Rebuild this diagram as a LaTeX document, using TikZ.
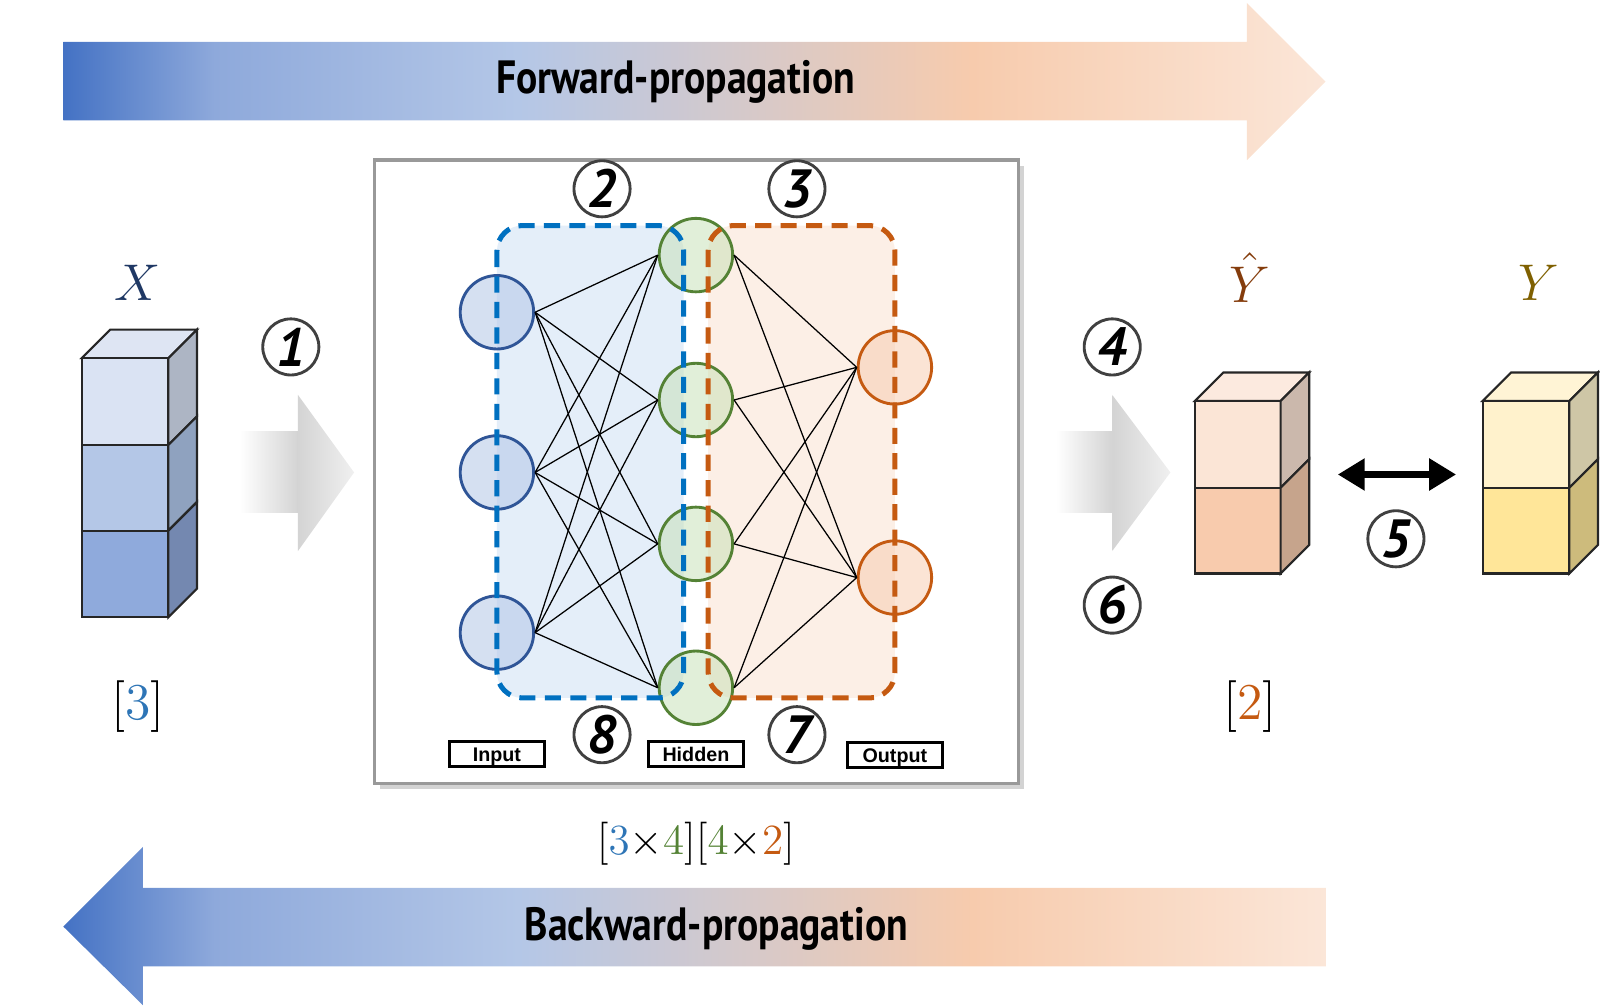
\documentclass[tikz,border=0pt]{standalone}
\usepackage{fontspec}
\setmainfont{PT Sans}
\newfontfamily\condfont[FakeStretch=0.85]{PT Sans}
\newfontfamily\labelfont{Liberation Sans}
\usetikzlibrary{arrows.meta,shadows}

% colours
\definecolor{pdeep}{HTML}{4472C4}
\definecolor{pmid}{HTML}{8EA9DB}
\definecolor{plight}{HTML}{B4C7E7}
\definecolor{ppeach}{HTML}{F7CBAD}
\definecolor{pend}{HTML}{FBE6D8}
\definecolor{inblue}{HTML}{2F5597}
\definecolor{infill}{HTML}{B4C7E7}
\definecolor{hidgreen}{HTML}{548235}
\definecolor{hidfill}{HTML}{C5E0B4}
\definecolor{outorange}{HTML}{C55A11}
\definecolor{outfill}{HTML}{F8CBAD}
\definecolor{zoneblue}{HTML}{0070C0}
\definecolor{zonebluefill}{HTML}{D6E6F6}
\definecolor{zoneorfill}{HTML}{FBE5D6}
\definecolor{numblue}{HTML}{2E75B6}
\definecolor{xnavy}{HTML}{1F3864}
\definecolor{yhatbrown}{HTML}{843C0C}
\definecolor{yolive}{HTML}{7F6000}

\pgfdeclarehorizontalshading{propshade}{100bp}{color(0bp)=(pdeep); color(25bp)=(pdeep); color(31bp)=(pmid); color(43bp)=(plight); color(61bp)=(ppeach); color(75bp)=(pend); color(100bp)=(pend)}

\tikzset{
  innode/.style={circle, draw=inblue, fill=infill, fill opacity=0.55, line width=0.8pt, minimum size=0.72cm, inner sep=0pt},
  hidnode/.style={circle, draw=hidgreen, fill=hidfill, fill opacity=0.5, line width=0.8pt, minimum size=0.72cm, inner sep=0pt},
  outnode/.style={circle, draw=outorange, fill=outfill, fill opacity=0.5, line width=0.8pt, minimum size=0.72cm, inner sep=0pt},
  wire/.style={black, line width=0.35pt},
  stepnum/.style={circle, draw=black!75, fill=white, line width=0.8pt, minimum size=0.55cm, inner sep=0pt, font=\fontsize{15}{17}\selectfont\bfseries\itshape},
  layerbox/.style={draw, line width=0.9pt, minimum width=0.93cm, minimum height=0.25cm, inner sep=0pt, text height=4pt, text depth=0pt, font=\labelfont\fontsize{5.5}{6}\selectfont\bfseries},
  zone/.style={line width=1.4pt, dash pattern=on 4.5pt off 2.6pt, rounded corners=0.25cm},
  cubeline/.style={draw=black!85, line width=0.6pt},
  bigtext/.style={font=\condfont\fontsize{13}{15}\selectfont\bfseries},
  mathlab/.style={font=\fontsize{14}{16}\selectfont}
}

\begin{document}
\begin{tikzpicture}[x=0.1mm, y=-0.1mm]
    \useasboundingbox (0,0) rectangle (1568,986);

    % Forward arrow
    \shade[shading=propshade] (62,41) -- (1222,41) -- (1222,3) -- (1299,80) -- (1222,157) -- (1222,118) -- (62,118) -- cycle;
    \node[bigtext] (fwd) at (662,80) {Forward-propagation};

    % Backward arrow
    \shade[shading=propshade] (1300,870) -- (140,870) -- (140,830) -- (62,908) -- (140,985) -- (140,947) -- (1300,947) -- cycle;
    \node[bigtext] (bwd) at (702,910) {Backward-propagation};

    % Network frame
    \draw[draw=black!40, line width=1pt, fill=white, drop shadow={shadow xshift=1.5pt, shadow yshift=-1.5pt, opacity=0.35}] (367,157) rectangle (998,768);

    % Zone fills
    \fill[zonebluefill, rounded corners=0.25cm, opacity=0.65] (487,221) rectangle (670,684);
    \fill[zoneorfill, rounded corners=0.25cm, opacity=0.6] (694,221) rectangle (877,684);

    % Neurons
    \node[innode] (i1) at (487,306) {};
    \node[innode] (i2) at (487,463) {};
    \node[innode] (i3) at (487,620) {};
    \node[hidnode] (h1) at (682,250) {};
    \node[hidnode] (h2) at (682,392) {};
    \node[hidnode] (h3) at (682,533) {};
    \node[hidnode] (h4) at (682,674) {};
    \node[outnode] (o1) at (877,360) {};
    \node[outnode] (o2) at (877,566) {};

    % Weights
    \foreach \i in {1,2,3}
        \foreach \h in {1,...,4}
            \draw[wire] (i\i.east) -- (h\h.west);
    \foreach \h in {1,...,4}
        \foreach \o in {1,2}
            \draw[wire] (h\h.east) -- (o\o.west);

    % Zone borders
    \draw[zone, zoneblue] (487,221) rectangle (670,684);
    \draw[zone, outorange] (694,221) rectangle (877,684);

    % Layer labels
    \node[layerbox] (inlab) at (487,739) {Input};
    \node[layerbox] (hidlab) at (682,739) {Hidden};
    \node[layerbox] (outlab) at (877,740) {Output};

    % Step numbers
    \node[stepnum] (s1) at (285,340) {1};
    \node[stepnum] (s2) at (590,185) {2};
    \node[stepnum] (s3) at (781,185) {3};
    \node[stepnum] (s4) at (1090,340) {4};
    \node[stepnum] (s5) at (1368,528) {5};
    \node[stepnum] (s6) at (1090,593) {6};
    \node[stepnum] (s7) at (781,720) {7};
    \node[stepnum] (s8) at (590,720) {8};

    % Grey arrows
    \shade[left color=white, right color=black!17] (235,423) rectangle (292,502);
    \shade[left color=black!17, right color=black!6] (292,387) -- (347,463) -- (292,540) -- cycle;
    \shade[left color=white, right color=black!17] (1035,423) rectangle (1090,502);
    \shade[left color=black!17, right color=black!6] (1090,387) -- (1147,463) -- (1090,540) -- cycle;

    % X cube
    \filldraw[cubeline, fill={rgb,255:red,222;green,229;blue,243}] (80,351) -- (108,323) -- (193,323) -- (165,351) -- cycle;
    \foreach \ya/\yb/\fc/\sc in {351/436/{rgb,255:red,218;green,227;blue,243}/{rgb,255:red,173;green,181;blue,196},
                                 436/520/{rgb,255:red,180;green,199;blue,231}/{rgb,255:red,143;green,162;blue,191},
                                 520/605/{rgb,255:red,143;green,170;blue,220}/{rgb,255:red,116;green,136;blue,176}} {
        \filldraw[cubeline, fill=\fc] (80,\ya) rectangle (165,\yb);
        \filldraw[cubeline, fill=\sc] (165,\ya) -- (193,\ya-28) -- (193,\yb-28) -- (165,\yb) -- cycle;
    }

    % Y-hat cube
    \filldraw[cubeline, fill={rgb,255:red,252;green,234;blue,223}] (1171,393) -- (1199,365) -- (1283,365) -- (1255,393) -- cycle;
    \foreach \ya/\yb/\fc/\sc in {393/478/{rgb,255:red,251;green,229;blue,214}/{rgb,255:red,203;green,184;blue,172},
                                 478/562/{rgb,255:red,248;green,203;blue,173}/{rgb,255:red,198;green,164;blue,140}} {
        \filldraw[cubeline, fill=\fc] (1171,\ya) rectangle (1255,\yb);
        \filldraw[cubeline, fill=\sc] (1255,\ya) -- (1283,\ya-28) -- (1283,\yb-28) -- (1255,\yb) -- cycle;
    }

    % Y cube
    \filldraw[cubeline, fill={rgb,255:red,255;green,244;blue,213}] (1453,393) -- (1481,365) -- (1566,365) -- (1538,393) -- cycle;
    \foreach \ya/\yb/\fc/\sc in {393/478/{rgb,255:red,255;green,242;blue,204}/{rgb,255:red,206;green,198;blue,166},
                                 478/562/{rgb,255:red,255;green,230;blue,153}/{rgb,255:red,205;green,187;blue,124}} {
        \filldraw[cubeline, fill=\fc] (1453,\ya) rectangle (1538,\yb);
        \filldraw[cubeline, fill=\sc] (1538,\ya) -- (1566,\ya-28) -- (1566,\yb-28) -- (1538,\yb) -- cycle;
    }

    % Compare arrow
    \coordinate (cmpl) at (1311,465);
    \coordinate (cmpr) at (1427,465);
    \draw[line width=2.2pt, {Triangle[length=7.5pt, width=8.5pt]}-{Triangle[length=7.5pt, width=8.5pt]}] (cmpl) -- (cmpr);

    % Labels
    \node[mathlab, text=xnavy] (xlab) at (135,277) {$X$};
    \node[mathlab, text=yhatbrown] (yhatlab) at (1225,272) {$\hat{Y}$};
    \node[mathlab, text=yolive] (ylab) at (1508,277) {$Y$};
    \node[mathlab] (xdim) at (135,692) {$[{\color{numblue}3}]$};
    \node[mathlab] (ydim) at (1225,692) {$[{\color{outorange}2}]$};
    \node[mathlab, font=\fontsize{13}{15}\selectfont] (wdim) at (682,827) {$[{\color{numblue}3}{\times}{\color{hidgreen}4}][{\color{hidgreen}4}{\times}{\color{outorange}2}]$};

\end{tikzpicture}
\end{document}
